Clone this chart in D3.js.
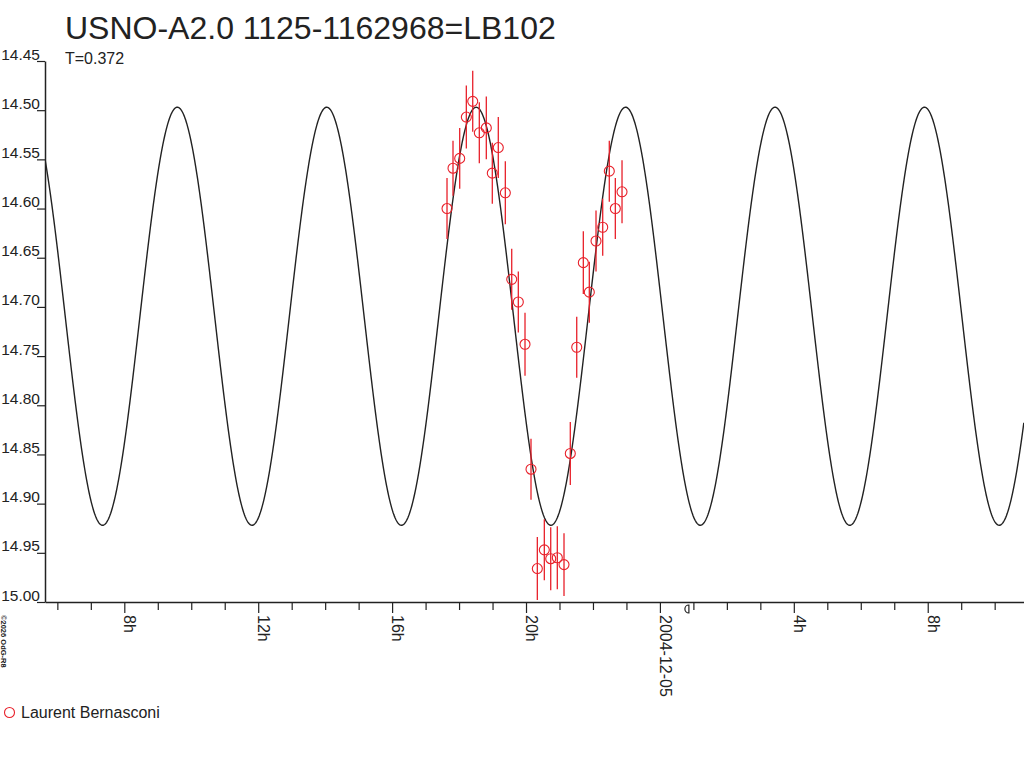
<!DOCTYPE html>
<html>
<head>
<meta charset="utf-8">
<script src="https://cdn.jsdelivr.net/npm/d3@7"></script>
<style>
html,body{margin:0;padding:0;background:#fff;}
svg{display:block;font-family:"Liberation Sans",Arial,sans-serif;}
</style>
</head>
<body>
<svg id="chart" width="1024" height="768"></svg>
<script>
// ---- data ----
const titleText = "USNO-A2.0 1125-1162968=LB102";
const periodDays = 0.372;
const periodLabel = "T=0.372";
const observer = "Laurent Bernasconi";
const copyright = "\u00A92026 OdG-R8";

// observation times: hours since 2004-12-04 00:00 UT
const obsHours = [17.640, 17.819, 18.019, 18.217, 18.408, 18.605, 18.814, 18.993, 19.172, 19.382,
                  19.573, 19.770, 19.970, 20.149, 20.338, 20.547, 20.738, 20.935, 21.135, 21.323,
                  21.515, 21.712, 21.891, 22.091, 22.291, 22.488, 22.668, 22.868];
const obsMag = [14.600, 14.559, 14.549, 14.507, 14.491, 14.523, 14.518, 14.564, 14.538, 14.584,
                14.672, 14.695, 14.738, 14.865, 14.966, 14.947, 14.956, 14.955, 14.962, 14.849,
                14.741, 14.655, 14.685, 14.633, 14.619, 14.562, 14.600, 14.583];
const obsErr = [0.031, 0.028, 0.031, 0.032, 0.031, 0.031, 0.032, 0.031, 0.031, 0.032,
                0.031, 0.031, 0.032, 0.031, 0.032, 0.031, 0.032, 0.032, 0.032, 0.032,
                0.031, 0.032, 0.031, 0.031, 0.029, 0.031, 0.031, 0.032];

// fitted model (double-wave sine)
const modelMean = 14.7095;
const modelAmp = 0.2125;
const modelEpochHour = 9.583; // brightness maximum

const yTicks = [14.45, 14.50, 14.55, 14.60, 14.65, 14.70, 14.75, 14.80, 14.85, 14.90, 14.95, 15.00];
const xMinorTicks = [6,7,8,9,10,11,12,13,14,15,16,17,18,19,20,21,22,23,24,25,26,27,28,29,30,31,32,33,34];
const xMajorTicks = [8, 12, 16, 20, 24, 28, 32];
const xMajorLabels = ["8h", "12h", "16h", "20h", "2004-12-05", "4h", "8h"];
const moonHour = 25;

// ---- drawing ----
(function draw() {
const svg = d3.select("#chart");
svg.append("rect").attr("width",1024).attr("height",768).attr("fill","#fff");

const pLeft = 45, pRight = 1024, pTop = 61, pBottom = 602;
const x = d3.scaleLinear().domain([5.631, 34.876]).range([pLeft, pRight]);
const y = d3.scaleLinear().domain([14.45, 15.00]).range([pTop, pBottom]);
const ink = "#222";
const red = "#e8202a";

svg.append("defs").append("clipPath").attr("id","plotclip")
  .append("rect").attr("x",pLeft).attr("y",pTop-20).attr("width",pRight-pLeft).attr("height",pBottom-pTop+20);

// title
svg.append("text").attr("x",65).attr("y",39).attr("font-size",32).attr("fill",ink).text(titleText);
svg.append("text").attr("x",65).attr("y",64).attr("font-size",16).attr("fill",ink).text(periodLabel);

// y axis
const yAxis = d3.axisLeft(y).tickValues(yTicks).tickSize(8).tickSizeOuter(0)
  .tickFormat(d3.format(".2f"));
const gy = svg.append("g").attr("transform",`translate(${pLeft},0)`).call(yAxis);
gy.select(".domain").attr("stroke",ink).attr("stroke-width",1.5);
gy.selectAll(".tick line").attr("stroke",ink).attr("stroke-width",1.2);
gy.selectAll(".tick text").attr("x",-5).attr("dy",null).attr("y",-2)
  .attr("font-size",15.5).attr("fill",ink).attr("font-family","Liberation Sans, Arial, sans-serif");

// x axis
const xAxis = d3.axisBottom(x).tickValues(xMinorTicks).tickSize(8).tickSizeOuter(0).tickFormat("");
const gx = svg.append("g").attr("transform",`translate(0,${pBottom})`).call(xAxis);
gx.select(".domain").attr("stroke",ink).attr("stroke-width",1.5);
gx.selectAll(".tick line").attr("stroke",ink).attr("stroke-width",1.2)
  .attr("y2", d => xMajorTicks.includes(d) ? 11 : 8);
gx.selectAll(".tick text").remove();
xMajorTicks.forEach((h, i) => {
  svg.append("text")
    .attr("transform",`translate(${x(h)},${615}) rotate(90)`)
    .attr("font-size",16).attr("fill",ink).attr("text-anchor","start")
    .text(xMajorLabels[i]);
});

// moon glyph
const mx = x(moonHour) - 4.5;
svg.append("path")
  .attr("d",`M${mx},605 A4,4 0 0,0 ${mx},613 Z`)
  .attr("fill","none").attr("stroke",ink).attr("stroke-width",1.2);

// copyright
svg.append("text").attr("transform","translate(1,615) rotate(90)")
  .attr("font-size",7.5).attr("font-weight","bold").attr("fill",ink).text(copyright);

// model curve
const halfPeriodH = periodDays * 24 / 2;
const curveHours = d3.range(x.domain()[0], x.domain()[1] + 0.01, 0.02);
const line = d3.line()
  .x(h => x(h))
  .y(h => y(modelMean - modelAmp * Math.cos(2 * Math.PI * (h - modelEpochHour) / halfPeriodH)));
svg.append("path").datum(curveHours).attr("clip-path","url(#plotclip)")
  .attr("d",line).attr("fill","none").attr("stroke",ink).attr("stroke-width",1.4);

// observations
const obs = obsHours.map((h,i) => ({h, m: obsMag[i], e: obsErr[i]}));
const gp = svg.append("g");
gp.selectAll("line.err").data(obs).enter().append("line")
  .attr("x1", d => x(d.h)).attr("x2", d => x(d.h))
  .attr("y1", d => y(d.m - d.e)).attr("y2", d => y(d.m + d.e))
  .attr("stroke",red).attr("stroke-width",1.3);
gp.selectAll("circle").data(obs).enter().append("circle")
  .attr("cx", d => x(d.h)).attr("cy", d => y(d.m)).attr("r",5)
  .attr("fill","none").attr("stroke",red).attr("stroke-width",1.1);

// legend
svg.append("circle").attr("cx",9.5).attr("cy",712.5).attr("r",5)
  .attr("fill","none").attr("stroke",red).attr("stroke-width",1.1);
svg.append("text").attr("x",21).attr("y",718).attr("font-size",16).attr("fill",ink).text(observer);
})();
</script>
</body>
</html>
